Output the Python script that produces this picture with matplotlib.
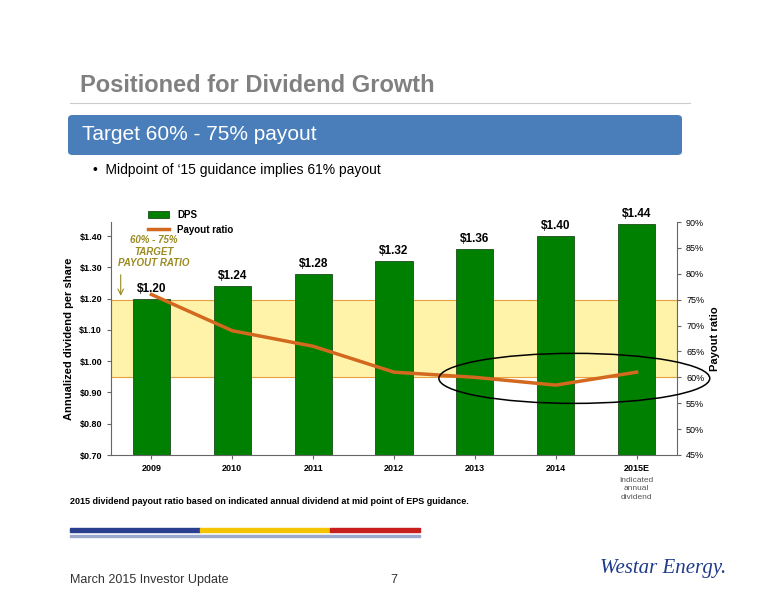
import matplotlib
matplotlib.use("Agg")
import matplotlib.pyplot as plt
from matplotlib.patches import Rectangle, FancyBboxPatch, Ellipse

years = ["2009", "2010", "2011", "2012", "2013", "2014", "2015E"]
dps = [1.20, 1.24, 1.28, 1.32, 1.36, 1.40, 1.44]
payout = [76, 69, 66, 61, 60, 58.5, 61]
dps_labels = ["$1.20", "$1.24", "$1.28", "$1.32", "$1.36", "$1.40", "$1.44"]
left_ticks = [0.70, 0.80, 0.90, 1.00, 1.10, 1.20, 1.30, 1.40]
right_ticks = [45, 50, 55, 60, 65, 70, 75, 80, 85, 90]

plt.rcParams['font.family'] = ['Liberation Sans', 'DejaVu Sans']
fig = plt.figure(figsize=(7.76, 6.0), dpi=100)
W, H = 776, 600
def fx(x): return x / W
def fy(y): return 1 - y / H

fig.text(fx(80), fy(85), "Positioned for Dividend Growth", fontsize=17, fontweight='bold', color='#808080', va='center')
fig.add_artist(plt.Line2D([fx(70), fx(690)], [fy(103), fy(103)], color='#cccccc', lw=0.8))
fig.add_artist(FancyBboxPatch((fx(68), fy(155)), fx(614), 40 / H, boxstyle="round,pad=0,rounding_size=0.006",
                              facecolor='#4a7ebb', edgecolor='none', transform=fig.transFigure))
fig.text(fx(82), fy(135), "Target 60% - 75% payout", fontsize=15, color='white', va='center')
fig.text(fx(93), fy(170), "•  Midpoint of \u201815 guidance implies 61% payout", fontsize=10, color='black', va='center')

ax = fig.add_axes([fx(111), fy(455), fx(677 - 111), (455 - 222) / H])
x = list(range(len(years)))
ax.set_ylim(0.70, 1.445)
ax.set_xlim(-0.5, len(years) - 0.5)
ax.bar(x, dps, width=0.46, color='#008000', edgecolor='#1a4d1a', lw=0.6, zorder=2, label='DPS')
for xi, v, l in zip(x, dps, dps_labels):
    ax.text(xi, v + 0.012, l, ha='center', va='bottom', fontsize=8.5, fontweight='bold')
ax.set_yticks(left_ticks)
ax.set_yticklabels([f"${t:.2f}" for t in left_ticks], fontsize=6.5, fontweight='bold')
ax.set_xticks(x)
ax.set_xticklabels(years, fontsize=6.5, fontweight='bold')
ax.set_ylabel("Annualized dividend per share", fontsize=8, fontweight='bold')
for s in ['top', 'right']:
    ax.spines[s].set_visible(False)
ax.spines['left'].set_color('#666666'); ax.spines['bottom'].set_color('#666666')
ax.tick_params(length=3, color='#666666')

ax2 = ax.twinx()
ax2.set_ylim(45, 90)
ax2.add_patch(Rectangle((-0.5, 60), len(years), 15, facecolor='#fff3aa', edgecolor='#e8a040', lw=0.8, zorder=0))
ax.set_zorder(ax2.get_zorder() + 1); ax.patch.set_visible(False)
ax2.set_yticks(right_ticks)
ax2.set_yticklabels([f"{t}%" for t in right_ticks], fontsize=6.5)
ax2.set_ylabel("Payout ratio", fontsize=8, fontweight='bold')
for s in ['top', 'left', 'bottom']:
    ax2.spines[s].set_visible(False)
ax2.spines['right'].set_color('#666666')
ax2.tick_params(length=3, color='#666666')

def to_left(p):
    return 0.70 + (p - 45) * (1.445 - 0.70) / 45

ln, = ax.plot(x, [to_left(p) for p in payout], color='#d2691e', lw=2.5,
              zorder=3, solid_joinstyle='round', label='Payout ratio')
ax.add_patch(Ellipse((5.23, to_left(59.8)), 3.35, 0.16, fill=False, edgecolor='black', lw=1.1, zorder=4, clip_on=False))

ax.legend(handles=[ax.patches[0], ln], labels=['DPS', 'Payout ratio'], loc='upper left', bbox_to_anchor=(0.05, 1.09),
          frameon=False, handlelength=2.2, prop={'weight': 'bold', 'size': 7})
ax.text(0.03, 1.35, "60% - 75%\nTARGET\nPAYOUT RATIO", ha='center', va='center', fontsize=7, fontstyle='italic',
        fontweight='bold', color='#9a8a20', zorder=5)
ax.annotate("", xy=(-0.38, 1.20), xytext=(-0.38, 1.285), arrowprops=dict(arrowstyle='->', color='#9a8a20', lw=0.8))
ax.text(6, 0.63, "Indicated\nannual\ndividend", ha='center', va='top', fontsize=6, color='#555555', linespacing=1.3)

fig.text(fx(70), fy(502), "2015 dividend payout ratio based on indicated annual dividend at mid point of EPS guidance.",
         fontsize=6.5, fontweight='bold', va='center')
for x0, x1, c in [(70, 200, '#2a3e8f'), (200, 330, '#f5c400'), (330, 420, '#c81e1e')]:
    fig.add_artist(Rectangle((fx(x0), fy(532)), fx(x1 - x0), 4 / H, color=c, transform=fig.transFigure))
fig.add_artist(Rectangle((fx(70), fy(537)), fx(350), 2 / H, color='#9aa8cc', transform=fig.transFigure))
fig.text(fx(70), fy(580), "March 2015 Investor Update", fontsize=9, color='#333333', va='center')
fig.text(fx(390), fy(580), "7", fontsize=9, color='#333333', va='center')
fig.text(fx(600), fy(568), "Westar Energy.", fontsize=15, color='#1f3a8a', va='center', fontfamily='Liberation Serif', fontstyle='italic')
fig.savefig("out.png", dpi=100)
